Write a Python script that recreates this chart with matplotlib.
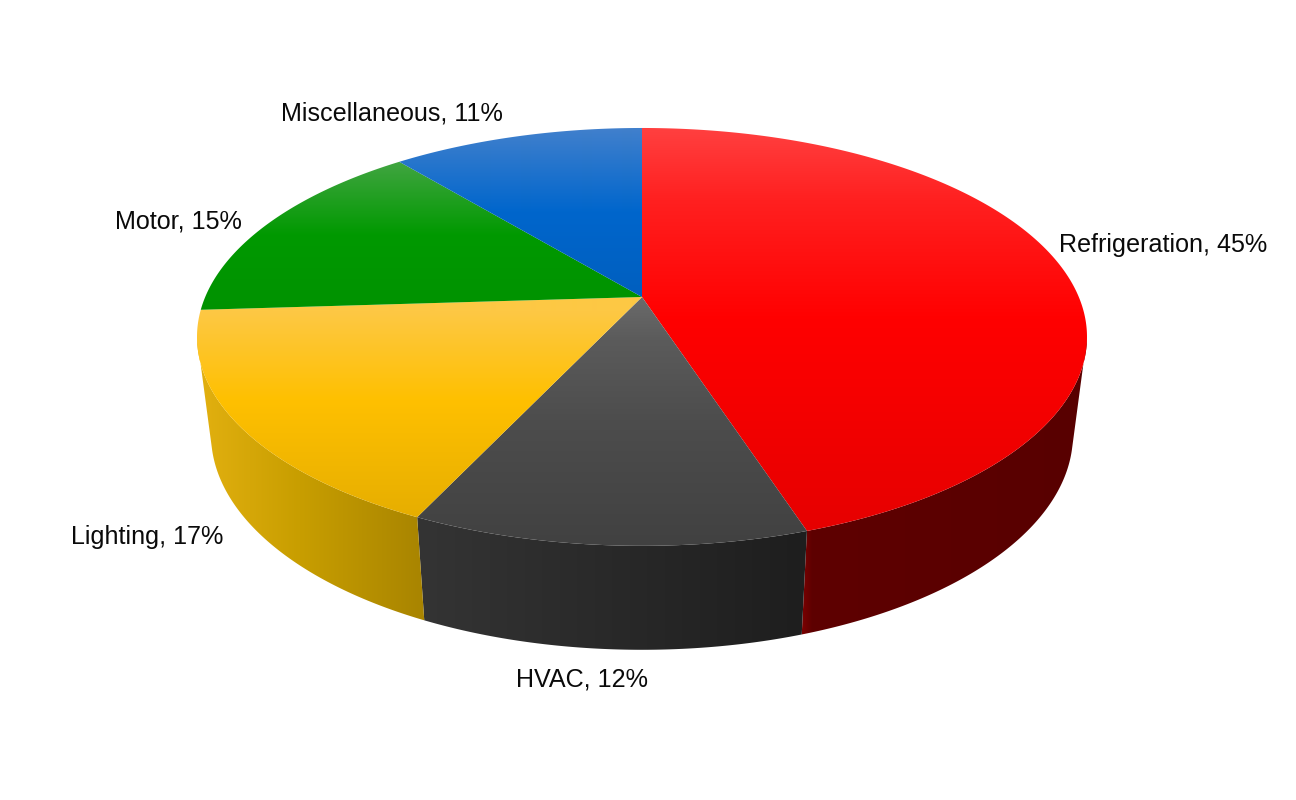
import numpy as np
import matplotlib
matplotlib.use("Agg")
import matplotlib.pyplot as plt
from matplotlib.colors import to_rgb
from matplotlib.patches import Polygon

categories = ["Refrigeration", "HVAC", "Lighting", "Motor", "Miscellaneous"]
shares = [45, 12, 17, 15, 11]

# ---- styling and layout (pixel space of the 1296x800 canvas) ----
W, H = 1296, 800
CX, APEX_Y = 642.0, 297.0
A, B, K = 436.8, 201.3, 0.191
SIDE_SX, SIDE_SY, SIDE_APEX_Y = 0.9685, 1.03, 393.5
TOP_VIS = (101.0, 259.0)
BOTTOM_VIS = (105.0, 255.0)

top_stops = {
    "Refrigeration": [(128, "#ff4040"), (200, "#ff2020"), (320, "#ff0000"), (530, "#e60000")],
    "HVAC": [(297, "#6b6b6b"), (340, "#5b5b5b"), (420, "#4d4d4d"), (546, "#414141")],
    "Lighting": [(312, "#fdc844"), (400, "#ffc000"), (518, "#e6ae00")],
    "Motor": [(162, "#41a541"), (235, "#009900"), (312, "#009200")],
    "Miscellaneous": [(128, "#4180cc"), (212, "#0066cc"), (297, "#005fbf")],
}
side_stops = {
    "Refrigeration": [(802, "#7c0000"), (812, "#5e0000"), (1090, "#580000")],
    "HVAC": [(420, "#343434"), (805, "#1e1e1e")],
    "Lighting": [(200, "#e2b010"), (300, "#c89e00"), (425, "#a88400")],
}
label_pos = {
    "Refrigeration": (1059, 245),
    "HVAC": (516, 679),
    "Lighting": (71, 537),
    "Motor": (115, 221),
    "Miscellaneous": (281, 114),
}


def top_xy(theta):
    t = np.radians(theta)
    u, v = np.sin(t), np.cos(t)
    d = 1 + K * v
    return CX + A * u / d, APEX_Y - B * v / d


def bottom_xy(theta):
    t = np.radians(theta)
    u, v = np.sin(t), np.cos(t)
    d = 1 + K * v
    return CX + SIDE_SX * A * u / d, SIDE_APEX_Y - SIDE_SY * B * v / d


def gradient(ax, stops, clip, vertical=True):
    pos = np.array([s[0] for s in stops], dtype=float)
    cols = np.array([to_rgb(s[1]) for s in stops])
    grid = np.arange(H if vertical else W) + 0.5
    ramp = np.stack([np.interp(grid, pos, cols[:, i]) for i in range(3)], axis=-1)
    img = ramp[:, None, :] if vertical else ramp[None, :, :]
    im = ax.imshow(img, extent=(0, W, H, 0), aspect="auto", interpolation="bilinear", zorder=clip.get_zorder())
    ax.add_patch(clip)
    clip.set_visible(False)
    im.set_clip_path(clip)


fig = plt.figure(figsize=(W / 100, H / 100), dpi=100, facecolor="white")
ax = fig.add_axes([0, 0, 1, 1])
plt.rcParams["font.family"] = ["Liberation Sans", "DejaVu Sans"]

edges = 360.0 * np.concatenate([[0], np.cumsum(shares)]) / np.sum(shares)

# side wall
for name, a0, a1 in zip(categories, edges[:-1], edges[1:]):
    if a1 <= TOP_VIS[0] or a0 >= TOP_VIS[1]:
        continue
    tt = np.linspace(max(a0, TOP_VIS[0]), min(a1, TOP_VIS[1]), 200)
    tb = np.linspace(max(a0, BOTTOM_VIS[0]), min(a1, BOTTOM_VIS[1]), 200)
    xt, yt = top_xy(tt)
    xb, yb = bottom_xy(tb)
    pts = np.column_stack([np.r_[xt, xb[::-1]], np.r_[yt, yb[::-1]]])
    gradient(ax, side_stops[name], Polygon(pts, closed=True, transform=ax.transData, zorder=2), vertical=False)

# top face
for name, a0, a1 in zip(categories, edges[:-1], edges[1:]):
    th = np.linspace(a0, a1, 300)
    xt, yt = top_xy(th)
    pts = np.column_stack([np.r_[CX, xt], np.r_[APEX_Y, yt]])
    gradient(ax, top_stops[name], Polygon(pts, closed=True, transform=ax.transData, zorder=3))

for name, val in zip(categories, shares):
    x, y = label_pos[name]
    ax.text(x, y, f"{name}, {val}%", ha="left", va="center", fontsize=18.05,
            color="#0a0a0a", zorder=5)

ax.set_xlim(0, W)
ax.set_ylim(H, 0)
ax.axis("off")
fig.savefig("out.png", dpi=100, facecolor="white")
